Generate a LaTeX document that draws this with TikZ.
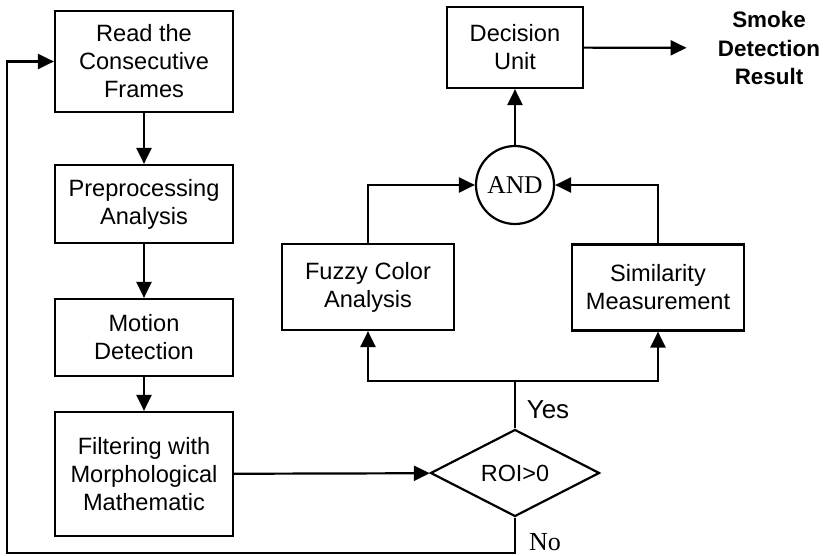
\documentclass[tikz,border=0pt]{standalone}
\usepackage{fontspec}
\setmainfont{Liberation Sans}
\newfontfamily\timesfont{Liberation Serif}
\usepackage{tikz}
\usetikzlibrary{shapes.geometric, arrows.meta, positioning}

\begin{document}
\begin{tikzpicture}[
    x=0.5pt, y=-0.5pt,
    block/.style={rectangle, draw, line width=1.1pt, minimum width=89pt, align=center, inner sep=2pt, font=\fontsize{11.8}{14}\selectfont},
    check/.style={block, minimum width=86pt, minimum height=43pt},
    link/.style={-{Triangle[length=8pt, width=7.5pt]}, line width=1.1pt},
    wire/.style={line width=1.1pt}
]
    \useasboundingbox (0,0) rectangle (826,556);

    \node[block, minimum height=50.5pt] (read) at (144, 61.5) {Read the\\Consecutive\\Frames};
    \node[block, minimum height=39pt] (prep) at (144, 204) {Preprocessing\\Analysis};
    \node[block, minimum height=38.5pt] (motion) at (144, 337.5) {Motion\\Detection};
    \node[block, minimum height=62pt] (filter) at (144, 474) {Filtering with\\Morphological\\Mathematic};

    \node[diamond, draw, line width=1.1pt, inner sep=0pt, minimum width=84.5pt, minimum height=43.5pt, font=\fontsize{11.7}{14}\selectfont] (roi) at (515, 473) {ROI>0};
    \node[check] (fuzzy) at (368, 287) {Fuzzy Color\\Analysis};
    \node[check] (simil) at (658, 287.5) {Similarity\\Measurement};
    \node[circle, draw, line width=1.1pt, inner sep=0pt, minimum size=39pt, font=\timesfont\fontsize{12.8}{14}\selectfont] (andgate) at (515, 185) {AND};
    \node[block, minimum width=68pt, minimum height=40.5pt] (decision) at (515, 47.5) {Decision\\Unit};
    \node[align=center, inner xsep=15.5pt, font=\fontsize{11.2}{14.25}\selectfont\bfseries] (result) at (769, 48) {Smoke\\Detection\\Result};

    \node[font=\fontsize{13}{15}\selectfont] (yes) at (548, 410) {Yes};
    \node[font=\timesfont\fontsize{13}{15}\selectfont] (no) at (545, 542) {No};

    \coordinate (split) at (515, 381);
    \coordinate (loop) at (7, 553);

    \draw[link] (read) -- (prep);
    \draw[link] (prep) -- (motion);
    \draw[link] (motion) -- (filter);
    \draw[link] (filter) -- (roi);
    \draw[link] (roi.south) |- (loop) |- (read.west);

    \draw[wire] (roi.north) -- (split);
    \draw[link] (split) -| (fuzzy.south);
    \draw[link] (split) -| (simil.south);
    \draw[link] (fuzzy.north) |- (andgate.west);
    \draw[link] (simil.north) |- (andgate.east);
    \draw[link] (andgate) -- (decision);
    \draw[link] (decision) -- (result);
\end{tikzpicture}
\end{document}
